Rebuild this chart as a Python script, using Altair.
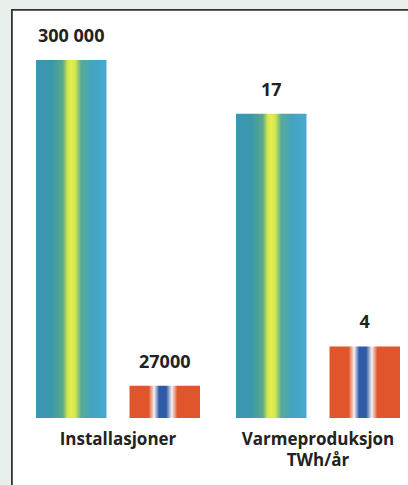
import altair as alt
import pandas as pd

# --- data ---
categories = ["Installasjoner", "Varmeproduksjon|TWh/år"]
series = ["A", "B"]
values_installasjoner = [300000, 27000]
labels_installasjoner = ["300 000", "27000"]
values_varme = [17, 4]
labels_varme = ["17", "4"]

rows = []
for s, v, l in zip(series, values_installasjoner, labels_installasjoner):
    rows.append({"group": categories[0], "series": s, "value": v, "label": l})
for s, v, l in zip(series, values_varme, labels_varme):
    rows.append({"group": categories[1], "series": s, "value": v, "label": l})
df = pd.DataFrame(rows)

teal = alt.Gradient(
    gradient="linear", x1=0, x2=1, y1=0, y2=0,
    stops=[
        alt.GradientStop(offset=0.0, color="#3a97b5"),
        alt.GradientStop(offset=0.22, color="#3b97aa"),
        alt.GradientStop(offset=0.38, color="#5aa98a"),
        alt.GradientStop(offset=0.45, color="#d4e74e"),
        alt.GradientStop(offset=0.5, color="#e6ef4c"),
        alt.GradientStop(offset=0.56, color="#cfe451"),
        alt.GradientStop(offset=0.64, color="#58aa96"),
        alt.GradientStop(offset=0.8, color="#42a3c2"),
        alt.GradientStop(offset=1.0, color="#48aacc"),
    ],
)
stripes = alt.Gradient(
    gradient="linear", x1=0, x2=1, y1=0, y2=0,
    stops=[
        alt.GradientStop(offset=0.0, color="#e0552b"),
        alt.GradientStop(offset=0.27, color="#e0552b"),
        alt.GradientStop(offset=0.35, color="#f8f1f0"),
        alt.GradientStop(offset=0.42, color="#2f5aa8"),
        alt.GradientStop(offset=0.52, color="#2f5aa8"),
        alt.GradientStop(offset=0.6, color="#f5f1f4"),
        alt.GradientStop(offset=0.68, color="#e0552b"),
        alt.GradientStop(offset=1.0, color="#e0552b"),
    ],
)

FONT = "Open Sans"
x_enc = alt.X(
    "group:N",
    sort=categories,
    scale=alt.Scale(domain=categories, paddingInner=0.18, paddingOuter=0),
    axis=alt.Axis(
        title=None, labelAngle=0, labelExpr="split(datum.label, '|')",
        labelFont=FONT, labelFontSize=17, labelFontWeight="bold",
        labelColor="#222222", ticks=False, tickSize=0, domain=False,
        labelPadding=13, labelBaseline="top", labelLineHeight=21, zindex=2,
    ),
)
xo_enc = alt.XOffset(
    "series:N", scale=alt.Scale(domain=series, paddingInner=0.246, paddingOuter=0)
)

base = alt.Chart(df)

background = alt.Chart(df).mark_rect(
    fill="white", stroke="#333333", strokeWidth=1.6
).encode(
    x=alt.value(-24), x2=alt.value(390), y=alt.value(-50), y2=alt.value(440)
)


def group_layers(group, domain_max):
    y_enc = alt.Y("value:Q", scale=alt.Scale(domain=[0, domain_max]), axis=None)
    g = base.transform_filter(alt.datum.group == group)
    bar_a = g.transform_filter(alt.datum.series == "A").mark_bar(color=teal).encode(
        x=x_enc, xOffset=xo_enc, y=y_enc
    )
    bar_b = g.transform_filter(alt.datum.series == "B").mark_bar(color=stripes).encode(
        x=x_enc, xOffset=xo_enc, y=y_enc
    )
    txt = g.mark_text(
        baseline="alphabetic", dy=-18, font=FONT, fontSize=18,
        fontWeight="bold", color="#222222"
    ).encode(x=x_enc, xOffset=xo_enc, y=y_enc, text="label:N")
    return [bar_a, bar_b, txt]


chart = alt.layer(
    background,
    *group_layers(categories[0], 300000),
    *group_layers(categories[1], 20.0),
).resolve_scale(y="independent").properties(
    width=364,
    height=358,
    autosize=alt.AutoSizeParams(type="none"),
    padding={"left": 36, "top": 60, "right": 8, "bottom": 67},
    background="#e9efeb",
).configure_view(stroke=None)

chart.save("out.html", embed_options={"renderer": "svg", "actions": False})
